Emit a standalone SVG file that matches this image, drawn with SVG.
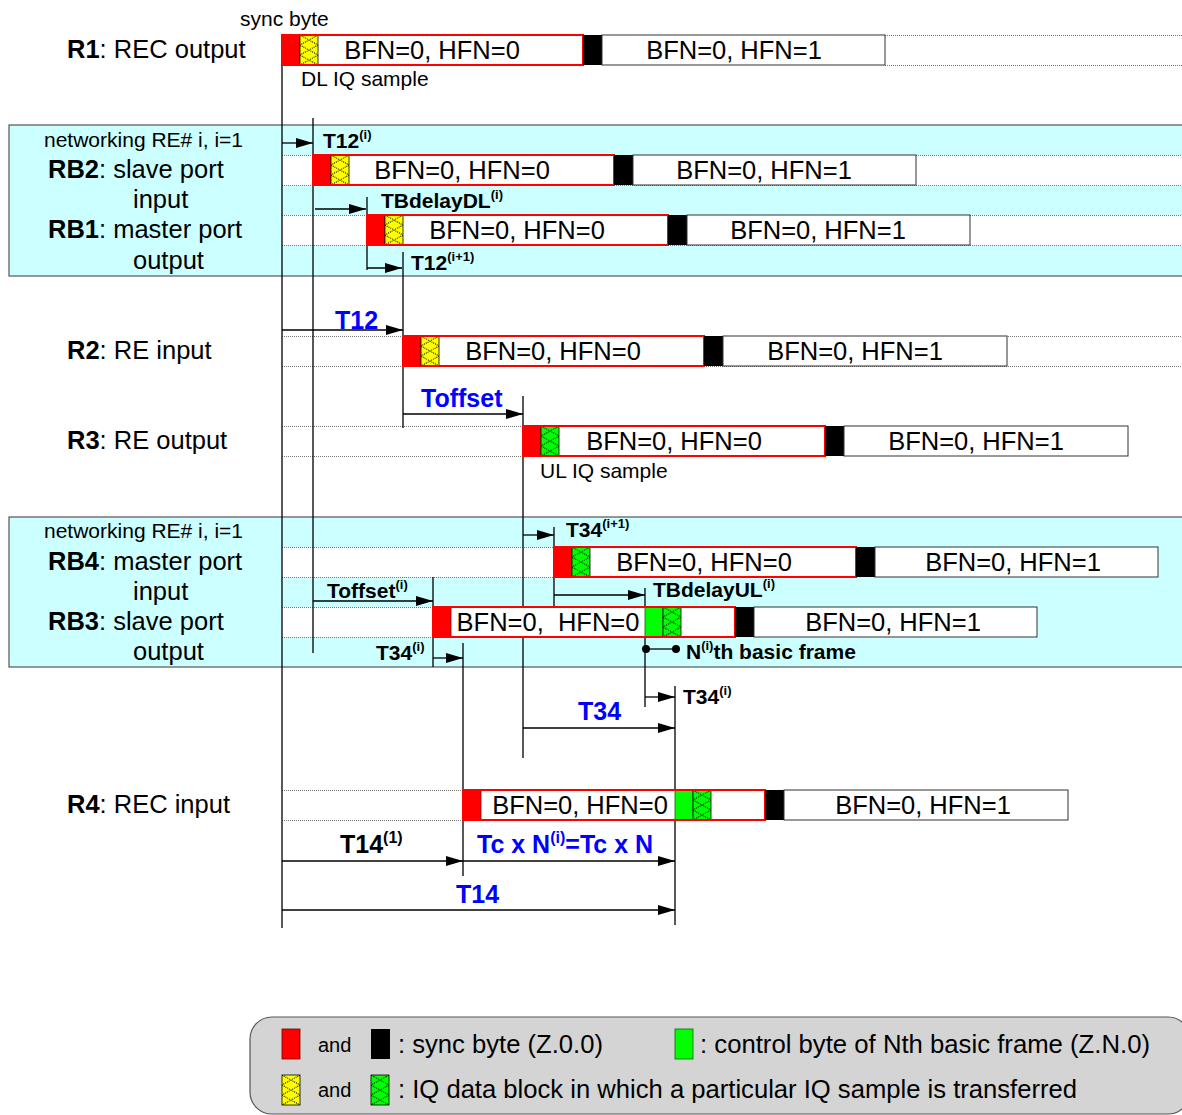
<svg xmlns="http://www.w3.org/2000/svg" width="1182" height="1115" viewBox="0 0 1182 1115">
<style>
text{font-family:"Liberation Sans",Arial,sans-serif;fill:#000}
.l24{font-size:25.5px}
.l21{font-size:21px}
.fr{font-size:25.5px;text-anchor:middle}
.tl{font-size:21px;font-weight:bold}
.bl{font-size:25px;font-weight:bold;fill:#0000ff}
.sup{font-size:13px}
.dot{stroke:#777;stroke-width:1;stroke-dasharray:1 1;fill:none}
.vl{stroke:#000;stroke-width:1.3;fill:none}
.arr{stroke:#000;stroke-width:1.3;fill:none;marker-end:url(#ah)}
.band{fill:#ccffff;stroke:#555;stroke-width:1.2}
.rowbg{fill:#fff}
.red{fill:#ff0000;stroke:#700;stroke-width:0.8}
.blk{fill:#000}
.wb{fill:#fff;stroke:#333;stroke-width:1}
.ro{fill:none;stroke:#ff0000;stroke-width:2}
.hy{fill:url(#hy);stroke:#000;stroke-width:0.8}
.hg{fill:url(#hg);stroke:#000;stroke-width:0.8}
.gr{fill:#00ff00;stroke:#060;stroke-width:0.8}
</style>
<defs>
<marker id="ah" markerUnits="userSpaceOnUse" markerWidth="18" markerHeight="10" refX="17" refY="5" orient="auto">
<path d="M0,0 L17,5 L0,10 z" fill="#000"/>
</marker>
<pattern id="hy" patternUnits="objectBoundingBox" width="1" height="0.3333">
<rect width="18" height="10" fill="#ffff00"/>
<path d="M0,0 L18,10 M18,0 L0,10" stroke="#000" stroke-width="1" stroke-dasharray="1 1"/>
</pattern>
<pattern id="hg" patternUnits="objectBoundingBox" width="1" height="0.3333">
<rect width="18" height="10" fill="#00ff00"/>
<path d="M0,0 L18,10 M18,0 L0,10" stroke="#000" stroke-width="1" stroke-dasharray="1 1"/>
</pattern>
</defs>

<rect width="1182" height="1115" fill="#fff"/>

<!-- bands -->
<g id="band1">
<rect class="band" x="9" y="125" width="1180" height="151"/>
<text class="l21" x="44" y="147">networking RE# i, i=1</text>
<text class="l24" x="48" y="178"><tspan font-weight="bold">RB2</tspan>: slave port</text>
<text class="l24" x="133" y="208">input</text>
<text class="l24" x="48" y="238"><tspan font-weight="bold">RB1</tspan>: master port</text>
<text class="l24" x="133" y="269">output</text>
</g>
<g id="band2">
<rect class="band" x="9" y="517" width="1180" height="150"/>
<text class="l21" x="44" y="538">networking RE# i, i=1</text>
<text class="l24" x="48" y="570"><tspan font-weight="bold">RB4</tspan>: master port</text>
<text class="l24" x="133" y="600">input</text>
<text class="l24" x="48" y="630"><tspan font-weight="bold">RB3</tspan>: slave port</text>
<text class="l24" x="133" y="660">output</text>
</g>

<!-- row backgrounds -->
<g id="rows">
<rect class="rowbg" x="282" y="155" width="900" height="30"/>
<path class="dot" d="M282,155.5H1182M282,185.5H1182"/>
<rect class="rowbg" x="282" y="215" width="900" height="30"/>
<path class="dot" d="M282,215.5H1182M282,245.5H1182"/>
<path class="dot" d="M885,35.5H1182M885,65.5H1182"/>
<path class="dot" d="M282,336.5H1182M282,366.5H1182"/>
<path class="dot" d="M282,426.5H523M282,456.5H523"/>
<rect class="rowbg" x="282" y="547" width="272" height="30"/>
<path class="dot" d="M282,547.5H554M282,577.5H554"/>
<rect class="rowbg" x="282" y="607" width="151" height="30"/>
<path class="dot" d="M282,607.5H433M282,637.5H433"/>
<path class="dot" d="M282,790.5H463M282,820.5H463"/>
</g>

<!-- connectors -->
<g id="connectors">
<path class="vl" d="M282,35V928M313,118V653M367,197V270M403,252V428M523,396V758M554,527V607M645,588V707M675,686V925M433,577V667M463,643V876"/>
<path class="arr" d="M282,143H313"/>
<path class="arr" d="M315,209H366"/>
<path class="arr" d="M367,268H402"/>
<path class="arr" d="M282,330H403"/>
<path class="arr" d="M403,414H523"/>
<path class="arr" d="M523,535H554"/>
<path class="arr" d="M554,595H645"/>
<path class="arr" d="M313,601H433"/>
<path class="arr" d="M433,658H463"/>
<path class="arr" d="M645,697H675"/>
<path class="arr" d="M523,728H675"/>
<path class="arr" d="M282,861H463"/>
<path class="arr" d="M463,861H675"/>
<path class="arr" d="M282,910H675"/>
<path d="M646,649H676" stroke="#000" stroke-width="1.3"/>
<circle cx="646" cy="649" r="4" fill="#000"/>
<circle cx="676" cy="649" r="4" fill="#000"/>
</g>

<!-- R1 -->
<g id="R1">
<text class="l24" x="67" y="58"><tspan font-weight="bold">R1</tspan>: REC output</text>
<text class="l21" x="240" y="26">sync byte</text>
<rect x="282" y="35" width="301" height="30" fill="#fff"/>
<rect class="red" x="282" y="35" width="18" height="30"/>
<rect class="hy" x="300" y="35" width="18" height="30"/>
<rect class="ro" x="282" y="35" width="301" height="30"/>
<rect class="blk" x="583" y="35" width="19" height="30"/>
<rect class="wb" x="602" y="35" width="283" height="30"/>
<text class="fr" x="432" y="59">BFN=0, HFN=0</text>
<text class="fr" x="734" y="59">BFN=0, HFN=1</text>
<text class="l21" x="301" y="86">DL IQ sample</text>
</g>

<!-- RB2 -->
<g id="RB2">
<rect x="313" y="155" width="301" height="30" fill="#fff"/>
<rect class="red" x="313" y="155" width="18" height="30"/>
<rect class="hy" x="331" y="155" width="18" height="30"/>
<rect class="ro" x="313" y="155" width="301" height="30"/>
<rect class="blk" x="614" y="155" width="19" height="30"/>
<rect class="wb" x="633" y="155" width="283" height="30"/>
<text class="fr" x="462" y="179">BFN=0, HFN=0</text>
<text class="fr" x="764" y="179">BFN=0, HFN=1</text>
</g>

<!-- RB1 -->
<g id="RB1">
<rect x="367" y="215" width="301" height="30" fill="#fff"/>
<rect class="red" x="367" y="215" width="18" height="30"/>
<rect class="hy" x="385" y="215" width="18" height="30"/>
<rect class="ro" x="367" y="215" width="301" height="30"/>
<rect class="blk" x="668" y="215" width="19" height="30"/>
<rect class="wb" x="687" y="215" width="283" height="30"/>
<text class="fr" x="517" y="239">BFN=0, HFN=0</text>
<text class="fr" x="818" y="239">BFN=0, HFN=1</text>
</g>

<!-- R2 -->
<g id="R2">
<text class="l24" x="67" y="359"><tspan font-weight="bold">R2</tspan>: RE input</text>
<rect x="403" y="336" width="301" height="30" fill="#fff"/>
<rect class="red" x="403" y="336" width="18" height="30"/>
<rect class="hy" x="421" y="336" width="18" height="30"/>
<rect class="ro" x="403" y="336" width="301" height="30"/>
<rect class="blk" x="704" y="336" width="19" height="30"/>
<rect class="wb" x="723" y="336" width="284" height="30"/>
<text class="fr" x="553" y="360">BFN=0, HFN=0</text>
<text class="fr" x="855" y="360">BFN=0, HFN=1</text>
</g>

<!-- R3 -->
<g id="R3">
<text class="l24" x="67" y="449"><tspan font-weight="bold">R3</tspan>: RE output</text>
<rect x="523" y="426" width="302" height="30" fill="#fff"/>
<rect class="red" x="523" y="426" width="18" height="30"/>
<rect class="hg" x="541" y="426" width="18" height="30"/>
<rect class="ro" x="523" y="426" width="302" height="30"/>
<rect class="blk" x="825" y="426" width="19" height="30"/>
<rect class="wb" x="844" y="426" width="284" height="30"/>
<text class="fr" x="674" y="450">BFN=0, HFN=0</text>
<text class="fr" x="976" y="450">BFN=0, HFN=1</text>
<text class="l21" x="540" y="478">UL IQ sample</text>
</g>

<!-- RB4 -->
<g id="RB4">
<rect x="554" y="547" width="302" height="30" fill="#fff"/>
<rect class="red" x="554" y="547" width="18" height="30"/>
<rect class="hg" x="572" y="547" width="18" height="30"/>
<rect class="ro" x="554" y="547" width="302" height="30"/>
<rect class="blk" x="856" y="547" width="19" height="30"/>
<rect class="wb" x="875" y="547" width="283" height="30"/>
<text class="fr" x="704" y="571">BFN=0, HFN=0</text>
<text class="fr" x="1013" y="571">BFN=0, HFN=1</text>
</g>

<!-- RB3 -->
<g id="RB3">
<rect x="433" y="607" width="302" height="30" fill="#fff"/>
<rect class="red" x="433" y="607" width="18" height="30"/>
<rect class="gr" x="645" y="607" width="18" height="30"/>
<rect class="hg" x="663" y="607" width="18" height="30"/>
<rect class="ro" x="433" y="607" width="302" height="30"/>
<rect class="blk" x="735" y="607" width="19" height="30"/>
<rect class="wb" x="754" y="607" width="283" height="30"/>
<text class="fr" x="548" y="631" xml:space="preserve">BFN=0,  HFN=0</text>
<text class="fr" x="893" y="631">BFN=0, HFN=1</text>
</g>

<!-- R4 -->
<g id="R4">
<text class="l24" x="67" y="813"><tspan font-weight="bold">R4</tspan>: REC input</text>
<rect x="463" y="790" width="302" height="30" fill="#fff"/>
<rect class="red" x="463" y="790" width="18" height="30"/>
<rect class="gr" x="675" y="790" width="18" height="30"/>
<rect class="hg" x="693" y="790" width="18" height="30"/>
<rect class="ro" x="463" y="790" width="302" height="30"/>
<rect class="blk" x="765" y="790" width="19" height="30"/>
<rect class="wb" x="784" y="790" width="284" height="30"/>
<text class="fr" x="580" y="814">BFN=0, HFN=0</text>
<text class="fr" x="923" y="814">BFN=0, HFN=1</text>
</g>

<!-- timing labels -->
<g id="labels">
<text class="tl" x="323" y="148">T12<tspan class="sup" dy="-9">(i)</tspan></text>
<text class="tl" x="381" y="208">TBdelayDL<tspan class="sup" dy="-9">(i)</tspan></text>
<text class="tl" x="411" y="270">T12<tspan class="sup" dy="-9">(i+1)</tspan></text>
<text class="bl" x="335" y="329">T12</text>
<text class="bl" x="421" y="407">Toffset</text>
<text class="tl" x="566" y="537">T34<tspan class="sup" dy="-9">(i+1)</tspan></text>
<text class="tl" x="327" y="598">Toffset<tspan class="sup" dy="-9">(i)</tspan></text>
<text class="tl" x="653" y="597">TBdelayUL<tspan class="sup" dy="-9">(i)</tspan></text>
<text class="tl" x="376" y="660">T34<tspan class="sup" dy="-9">(i)</tspan></text>
<text class="tl" x="686" y="659">N<tspan class="sup" dy="-9">(i)</tspan><tspan dy="9">th basic frame</tspan></text>
<text class="tl" x="683" y="704">T34<tspan class="sup" dy="-9">(i)</tspan></text>
<text class="bl" x="578" y="720">T34</text>
<text class="tl" x="340" y="853" style="font-size:25px">T14<tspan style="font-size:16px" dy="-10">(1)</tspan></text>
<text class="bl" x="477" y="853">Tc x N<tspan style="font-size:16px" dy="-10">(i)</tspan><tspan dy="10">=Tc x N</tspan></text>
<text class="bl" x="456" y="903">T14</text>
</g>

<!-- legend -->
<g id="legend">
<rect x="250" y="1017" width="940" height="97" rx="22" fill="#d4d4d4" stroke="#555" stroke-width="1.2"/>
<rect class="red" x="282" y="1029" width="18" height="30"/>
<text x="318" y="1052" font-size="20">and</text>
<rect class="blk" x="371" y="1029" width="19" height="30"/>
<text x="398" y="1053" font-size="25" textLength="205" lengthAdjust="spacingAndGlyphs">: sync byte (Z.0.0)</text>
<rect class="gr" x="675" y="1029" width="18" height="30"/>
<text x="700" y="1053" font-size="25" textLength="450" lengthAdjust="spacingAndGlyphs">: control byte of Nth basic frame (Z.N.0)</text>
<rect class="hy" x="282" y="1075" width="18" height="30"/>
<text x="318" y="1097" font-size="20">and</text>
<rect class="hg" x="371" y="1075" width="18" height="30"/>
<text x="398" y="1098" font-size="25" textLength="679" lengthAdjust="spacingAndGlyphs">: IQ data block in which a particular IQ sample is transferred</text>
</g>
</svg>
